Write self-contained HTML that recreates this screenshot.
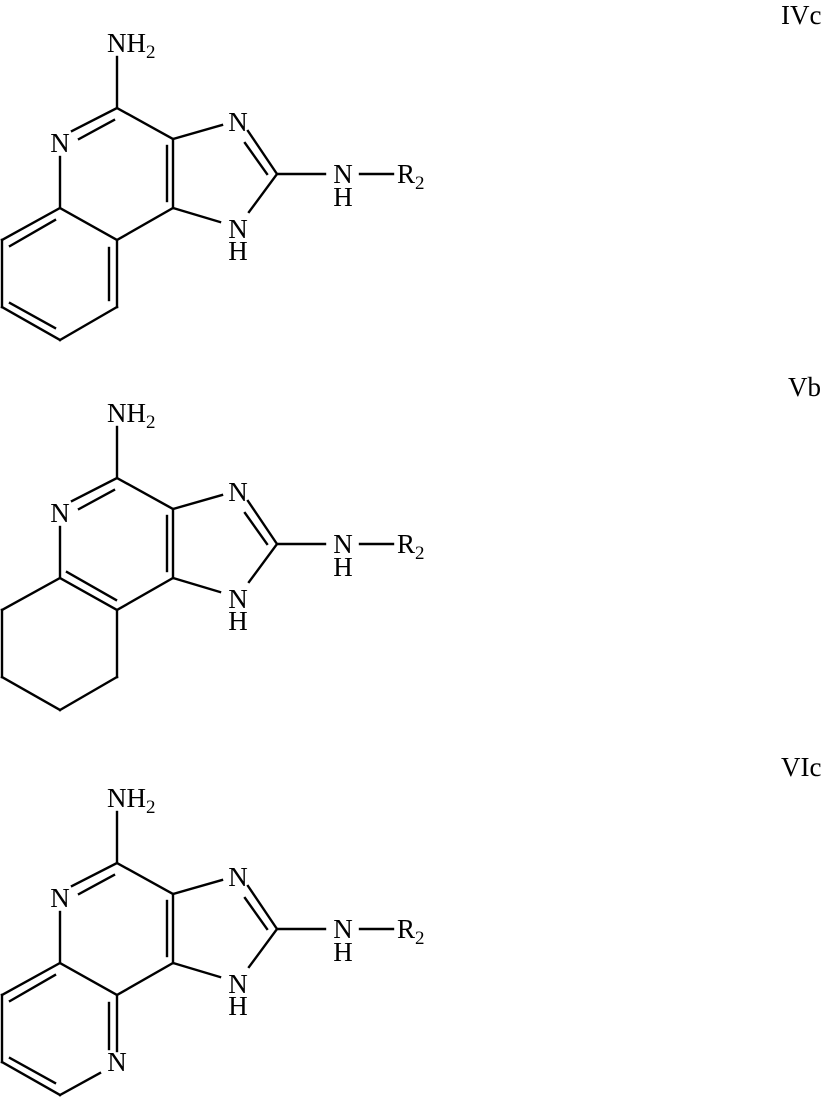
<!DOCTYPE html>
<html><head><meta charset="utf-8"><style>
html,body{margin:0;padding:0;background:#fff;}
svg{display:block;}
text{font-family:"Liberation Serif",serif;fill:#000;}
</style></head><body>
<svg width="825" height="1097" viewBox="0 0 825 1097" xmlns="http://www.w3.org/2000/svg">
<defs>
<g id="core" stroke="#000" stroke-width="2.4" fill="none" stroke-linecap="square">
  <line x1="117" y1="57" x2="117" y2="108"/>
  <line x1="117" y1="108" x2="72" y2="131"/>
  <line x1="79" y1="139" x2="114" y2="120"/>
  <line x1="60" y1="157" x2="60" y2="208"/>
  <line x1="117" y1="108" x2="173" y2="139"/>
  <line x1="173" y1="139" x2="173" y2="208"/>
  <line x1="167" y1="146" x2="167" y2="201"/>
  <line x1="173" y1="139" x2="222" y2="125"/>
  <line x1="248" y1="131" x2="277" y2="174"/>
  <line x1="245" y1="143" x2="267" y2="174"/>
  <line x1="277" y1="174" x2="249" y2="212"/>
  <line x1="220" y1="222" x2="173" y2="208"/>
  <line x1="277" y1="174" x2="325" y2="174"/>
  <line x1="360" y1="174" x2="393" y2="174"/>
  <line x1="173" y1="208" x2="117" y2="240"/>
  <line x1="60" y1="208" x2="117" y2="240"/>
</g>
<g id="labels">
  <text x="107" y="52" font-size="27">NH<tspan font-size="19" dy="6">2</tspan></text>
  <text x="60" y="152" font-size="27" text-anchor="middle">N</text>
  <text x="238" y="131" font-size="27" text-anchor="middle">N</text>
  <text x="238" y="238" font-size="27" text-anchor="middle">N</text>
  <text x="238" y="260" font-size="27" text-anchor="middle">H</text>
  <text x="343" y="183" font-size="27" text-anchor="middle">N</text>
  <text x="343" y="206" font-size="27" text-anchor="middle">H</text>
  <text x="397" y="183" font-size="27">R<tspan font-size="19" dy="6">2</tspan></text>
</g>
</defs>

<text x="781" y="24" font-size="27">IVc</text>
<text x="788" y="396" font-size="27">Vb</text>
<text x="781" y="776" font-size="27">VIc</text>

<!-- IVc -->
<g>
  <use href="#core"/><use href="#labels"/>
  <g stroke="#000" stroke-width="2.4" fill="none" stroke-linecap="square">
    <line x1="60" y1="208" x2="2" y2="240"/>
    <line x1="10" y1="246" x2="55" y2="220"/>
    <line x1="2" y1="240" x2="2" y2="307"/>
    <line x1="2" y1="307" x2="60" y2="340"/>
    <line x1="10" y1="303" x2="55" y2="328"/>
    <line x1="60" y1="340" x2="117" y2="307"/>
    <line x1="117" y1="307" x2="117" y2="240"/>
    <line x1="109" y1="300" x2="109" y2="248"/>
  </g>
</g>

<!-- Vb -->
<g transform="translate(0,370)">
  <use href="#core"/><use href="#labels"/>
  <g stroke="#000" stroke-width="2.4" fill="none" stroke-linecap="square">
    <line x1="67" y1="202" x2="116" y2="230"/>
    <line x1="60" y1="208" x2="2" y2="240"/>
    <line x1="2" y1="240" x2="2" y2="307"/>
    <line x1="2" y1="307" x2="60" y2="340"/>
    <line x1="60" y1="340" x2="117" y2="307"/>
    <line x1="117" y1="307" x2="117" y2="240"/>
  </g>
</g>

<!-- VIc -->
<g transform="translate(0,755)">
  <use href="#core"/><use href="#labels"/>
  <text x="117" y="316" font-size="27" text-anchor="middle">N</text>
  <g stroke="#000" stroke-width="2.4" fill="none" stroke-linecap="square">
    <line x1="60" y1="208" x2="2" y2="240"/>
    <line x1="10" y1="246" x2="55" y2="220"/>
    <line x1="2" y1="240" x2="2" y2="307"/>
    <line x1="2" y1="307" x2="60" y2="340"/>
    <line x1="10" y1="303" x2="55" y2="328"/>
    <line x1="60" y1="340" x2="100" y2="318"/>
    <line x1="117" y1="296" x2="117" y2="240"/>
    <line x1="109" y1="294" x2="109" y2="248"/>
  </g>
</g>
</svg>
</body></html>
